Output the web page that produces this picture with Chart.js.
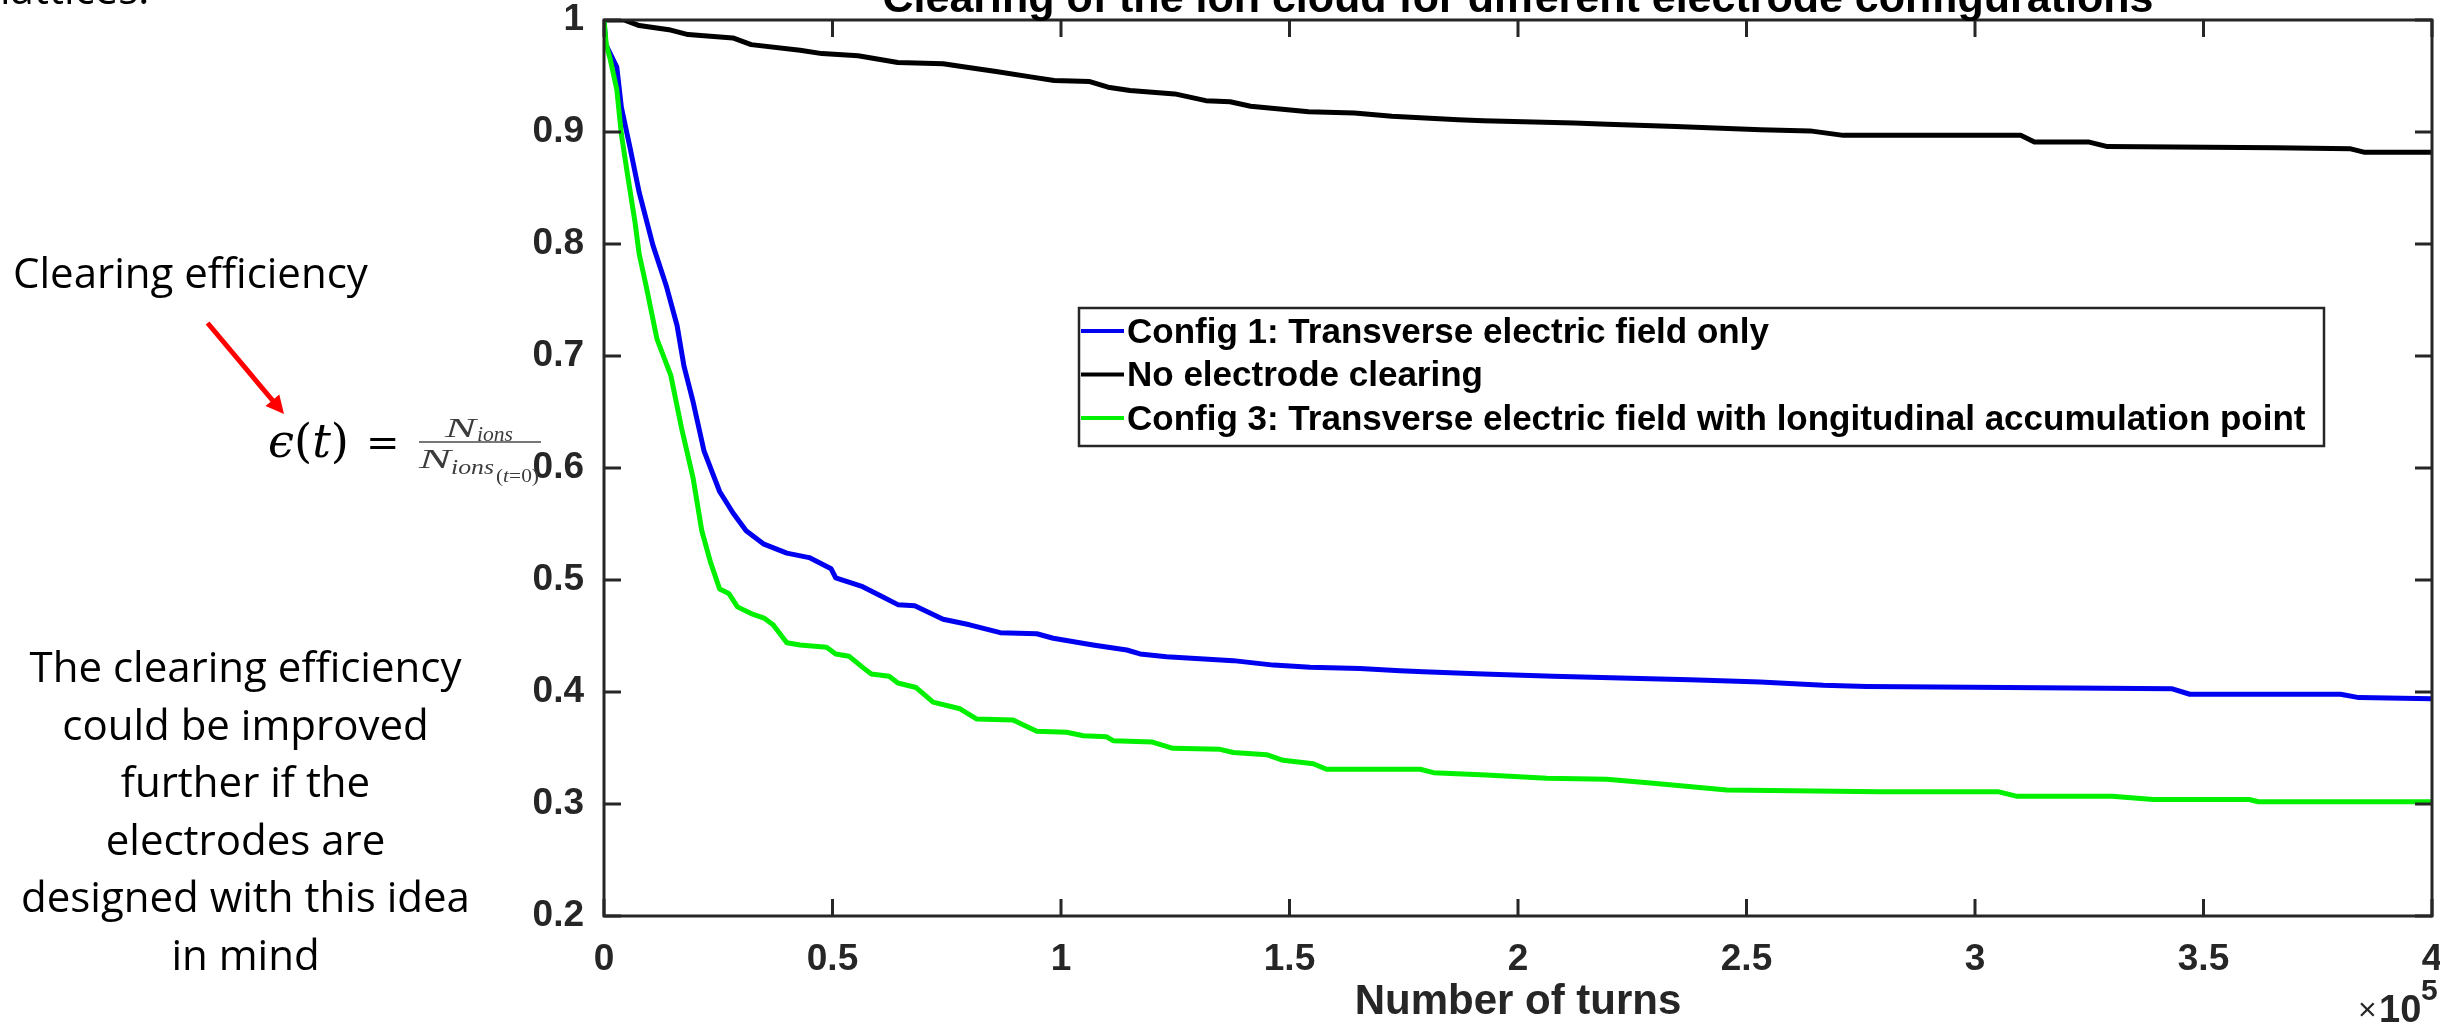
<!DOCTYPE html>
<html>
<head>
<meta charset="utf-8">
<title>Clearing of the ion cloud</title>
<script src="https://cdn.jsdelivr.net/npm/chart.js@4.4.1/dist/chart.umd.min.js"></script>
<style>
  html, body { margin: 0; padding: 0; background: #fff; overflow: hidden; }
  #wrap { position: absolute; left: 0; top: 0; width: 2450px; height: 1030px; }
  #notes { position: absolute; left: 0; top: 0; pointer-events: none; }
  .cal { font-family: "Open Sans", "Noto Sans", sans-serif; font-size: 42px; fill: #000; }
  .tex { font-family: "Liberation Serif", serif; fill: #3c3c3c; }
</style>
</head>
<body>
<div id="wrap"><canvas id="myChart"></canvas></div>

<svg id="notes" width="2440" height="1030">
  <text class="cal" x="0" y="4">lattices.</text>
  <text class="cal" x="13" y="288">Clearing efficiency</text>

  <!-- red arrow pointing at the formula -->
  <line x1="207.6" y1="323" x2="273.5" y2="401.5" stroke="#ff0000" stroke-width="5"/>
  <polygon points="284,414 265.5,406 279.3,394.4" fill="#ff0000"/>

  <text x="268" y="457" font-family="DejaVu Serif" font-size="46" textLength="81" lengthAdjust="spacingAndGlyphs"><tspan font-style="italic">ϵ</tspan>(<tspan font-style="italic">t</tspan>)</text>
  <text x="366" y="456" font-family="DejaVu Serif" font-size="40">=</text>

  <text class="tex" x="445" y="437" font-size="28" font-style="italic" textLength="31" lengthAdjust="spacingAndGlyphs">N</text>
  <text class="tex" x="477" y="441" font-size="22" font-style="italic" textLength="36" lengthAdjust="spacingAndGlyphs">ions</text>
  <line x1="419" y1="442" x2="541" y2="442" stroke="#4a4a4a" stroke-width="1.6"/>
  <text class="tex" x="419" y="468" font-size="28" font-style="italic" textLength="32" lengthAdjust="spacingAndGlyphs">N</text>
  <text class="tex" x="451" y="474" font-size="22" font-style="italic" textLength="43" lengthAdjust="spacingAndGlyphs">ions</text>
  <text class="tex" x="496" y="482" font-size="18" textLength="43" lengthAdjust="spacingAndGlyphs">(<tspan font-style="italic">t</tspan>=0)</text>

  <text class="cal" x="245.5" y="682" text-anchor="middle">The clearing efficiency</text>
  <text class="cal" x="245.5" y="739.6" text-anchor="middle">could be improved</text>
  <text class="cal" x="245.5" y="797.2" text-anchor="middle">further if the</text>
  <text class="cal" x="245.5" y="854.8" text-anchor="middle">electrodes are</text>
  <text class="cal" x="245.5" y="912.4" text-anchor="middle">designed with this idea</text>
  <text class="cal" x="245.5" y="970" text-anchor="middle">in mind</text>
</svg>

<script>
// Number of turns and remaining ion fraction for each electrode setup
const turnsConfig1 = [0, 400, 2800, 3800, 5700, 7700, 10700, 13600, 16000, 17500, 19500, 21900,
  25300, 28200, 31100, 35000, 40000, 44900, 49700, 50700, 56600, 60500, 64300, 68000, 74200,
  80000, 86700, 94700, 98300, 107000, 114400, 117300, 123100, 137700, 146500, 154500, 165400,
  174200, 179300, 192400, 207700, 226700, 237600, 253000, 266800, 276300, 307000, 343000,
  347000, 380000, 384000, 400000];
const effConfig1 = [1.000, 0.978, 0.958, 0.922, 0.886, 0.846, 0.799, 0.763, 0.727, 0.691, 0.659, 0.615,
  0.579, 0.560, 0.544, 0.532, 0.524, 0.520, 0.510, 0.502, 0.494, 0.486, 0.478, 0.477, 0.465,
  0.460, 0.453, 0.452, 0.448, 0.442, 0.4375, 0.434, 0.4315, 0.428, 0.424, 0.422, 0.421,
  0.419, 0.418, 0.416, 0.414, 0.412, 0.411, 0.409, 0.406, 0.405, 0.404, 0.403,
  0.398, 0.398, 0.395, 0.394];

const turnsNoClearing = [0, 4400, 7700, 14600, 18400, 28200, 32200, 42900, 47700, 55600, 64300,
  74200, 79000, 85800, 93700, 98500, 106300, 110300, 115100, 124900, 131700, 137000, 141500,
  154200, 164200, 172400, 186900, 192400, 212300, 219500, 234500, 253100, 263900, 271200,
  310000, 313000, 325000, 329000, 365700, 382200, 385100, 400000];
const effNoClearing = [1.000, 1.000, 0.995, 0.991, 0.987, 0.984, 0.978, 0.973, 0.970, 0.968, 0.962,
  0.961, 0.958, 0.954, 0.949, 0.946, 0.945, 0.940, 0.937, 0.934, 0.928, 0.927, 0.923,
  0.918, 0.917, 0.914, 0.911, 0.910, 0.908, 0.907, 0.905, 0.902, 0.901, 0.897,
  0.897, 0.891, 0.891, 0.887, 0.886, 0.885, 0.882, 0.882];

const turnsConfig3 = [0, 500, 1300, 2800, 3800, 5300, 6800, 7700, 9200, 11600, 14600, 17000, 19500,
  21400, 23300, 25300, 27300, 29200, 32200, 35000, 37000, 40000, 42900, 48700, 50700, 53600,
  56600, 58500, 62400, 64300, 68300, 72000, 77900, 81500, 89500, 94700, 101200, 104900, 110000,
  111400, 120000, 124500, 134800, 137700, 145000, 148600, 155200, 158100, 178600, 181500,
  193100, 206300, 219400, 229600, 245700, 279000, 305000, 309000, 330000, 339000, 360000,
  362000, 400000];
const effConfig3 = [1.000, 0.978, 0.966, 0.938, 0.898, 0.858, 0.819, 0.791, 0.763, 0.715, 0.683, 0.635, 0.591,
  0.544, 0.516, 0.492, 0.488, 0.476, 0.470, 0.466, 0.460, 0.444, 0.442, 0.440, 0.434, 0.432,
  0.422, 0.416, 0.414, 0.408, 0.404, 0.391, 0.385, 0.376, 0.375, 0.365, 0.364, 0.361, 0.360,
  0.3565, 0.3553, 0.3497, 0.3488, 0.346, 0.344, 0.339, 0.336, 0.331, 0.331, 0.328,
  0.326, 0.323, 0.322, 0.3185, 0.3125, 0.311, 0.311, 0.307, 0.307, 0.304, 0.304,
  0.302, 0.302];

const seriesNames = [
  'Config 1: Transverse electric field only',
  'No electrode clearing',
  'Config 3: Transverse electric field with longitudinal accumulation point'
];
const chartTitle = 'Clearing of the ion cloud for different electrode configurations';
const xAxisTitle = 'Number of turns';

const axisColor = '#262626';
const fontFamily = '"Liberation Sans", Arial, Helvetica, sans-serif';

function toPoints(xs, ys) {
  return xs.map((x, i) => ({ x: x, y: ys[i] }));
}

// Title, box with inward ticks, exponent and legend, drawn like a MATLAB figure
const matlabAxes = {
  id: 'matlabAxes',
  afterDatasetsDraw(chart) {
    const { ctx, chartArea: a, scales } = chart;
    ctx.save();

    // axes box
    ctx.strokeStyle = axisColor;
    ctx.lineWidth = 3;
    ctx.strokeRect(a.left, a.top, a.right - a.left, a.bottom - a.top);

    // ticks pointing into the plot on all four sides
    const tickLen = 17;
    ctx.beginPath();
    scales.x.ticks.forEach(t => {
      const px = scales.x.getPixelForValue(t.value);
      ctx.moveTo(px, a.bottom); ctx.lineTo(px, a.bottom - tickLen);
      ctx.moveTo(px, a.top); ctx.lineTo(px, a.top + tickLen);
    });
    scales.y.ticks.forEach(t => {
      const py = scales.y.getPixelForValue(t.value);
      ctx.moveTo(a.left, py); ctx.lineTo(a.left + tickLen, py);
      ctx.moveTo(a.right, py); ctx.lineTo(a.right - tickLen, py);
    });
    ctx.stroke();

    // title, its upper part runs off the top edge
    ctx.fillStyle = '#000';
    ctx.font = 'bold 43px ' + fontFamily;
    ctx.textAlign = 'center';
    ctx.textBaseline = 'alphabetic';
    ctx.fillText(chartTitle, (a.left + a.right) / 2, a.top - 8);

    // x10^5 exponent under the right end of the x axis
    ctx.fillStyle = axisColor;
    ctx.textAlign = 'left';
    ctx.font = '32px ' + fontFamily;
    ctx.fillText('\u00d7', a.right - 74, a.bottom + 104);
    ctx.font = 'bold 38px ' + fontFamily;
    ctx.fillText('10', a.right - 53, a.bottom + 106);
    ctx.font = 'bold 30px ' + fontFamily;
    ctx.fillText('5', a.right - 11, a.bottom + 84);

    // legend
    const lx = a.left + 475, ly = a.top + 288, lw = 1245, lh = 138;
    ctx.fillStyle = '#fff';
    ctx.fillRect(lx, ly, lw, lh);
    ctx.strokeStyle = axisColor;
    ctx.lineWidth = 2.5;
    ctx.strokeRect(lx, ly, lw, lh);
    ctx.font = 'bold 35px ' + fontFamily;
    ctx.textBaseline = 'middle';
    chart.data.datasets.forEach((ds, i) => {
      const ry = ly + 25 + i * 43.5;
      ctx.strokeStyle = ds.borderColor;
      ctx.lineWidth = 4;
      ctx.beginPath();
      ctx.moveTo(lx + 2, ry - 2);
      ctx.lineTo(lx + 45, ry - 2);
      ctx.stroke();
      ctx.fillStyle = '#000';
      ctx.fillText(ds.label, lx + 48, ry);
    });

    ctx.restore();
  }
};

const ctx = document.getElementById('myChart').getContext('2d');

const myChart = new Chart(ctx, {
  type: 'line',
  data: {
    datasets: [
      { label: seriesNames[0], data: toPoints(turnsConfig1, effConfig1), borderColor: '#0000f0', order: 3 },
      { label: seriesNames[1], data: toPoints(turnsNoClearing, effNoClearing), borderColor: '#000000', order: 2 },
      { label: seriesNames[2], data: toPoints(turnsConfig3, effConfig3), borderColor: '#00f000', order: 1 }
    ]
  },
  options: {
    responsive: true,
    maintainAspectRatio: false,
    animation: false,
    layout: { padding: { top: 20, right: 18, bottom: 0, left: 0 } },
    elements: {
      point: { radius: 0 },
      line: { borderWidth: 5, tension: 0, fill: false, borderJoinStyle: 'round' }
    },
    plugins: {
      legend: { display: false },
      tooltip: { enabled: false }
    },
    scales: {
      x: {
        type: 'linear',
        min: 0,
        max: 400000,
        // fixed band below the plot; end labels may hang over the edges
        afterFit: s => { s.height = 114; s.paddingLeft = 0; s.paddingRight = 0; },
        grid: { display: false },
        border: { display: false },
        ticks: {
          stepSize: 50000,
          autoSkip: false,
          maxRotation: 0,
          padding: 17,
          color: axisColor,
          font: { family: fontFamily, size: 37, weight: 'bold', lineHeight: 1 },
          callback: v => String(v / 1e5)
        },
        title: {
          display: true,
          text: xAxisTitle,
          color: axisColor,
          font: { family: fontFamily, size: 42, weight: 'bold', lineHeight: 1 },
          padding: { top: 0, bottom: 7 }
        }
      },
      y: {
        min: 0.2,
        max: 1,
        afterFit: s => { s.width = 604; s.paddingTop = 0; s.paddingBottom = 0; },
        grid: { display: false },
        border: { display: false },
        ticks: {
          stepSize: 0.1,
          padding: 12,
          color: axisColor,
          font: { family: fontFamily, size: 37, weight: 'bold', lineHeight: 1 },
          callback: v => String(Number(v.toFixed(1)))
        }
      }
    }
  },
  plugins: [matlabAxes]
});
</script>
</body>
</html>
